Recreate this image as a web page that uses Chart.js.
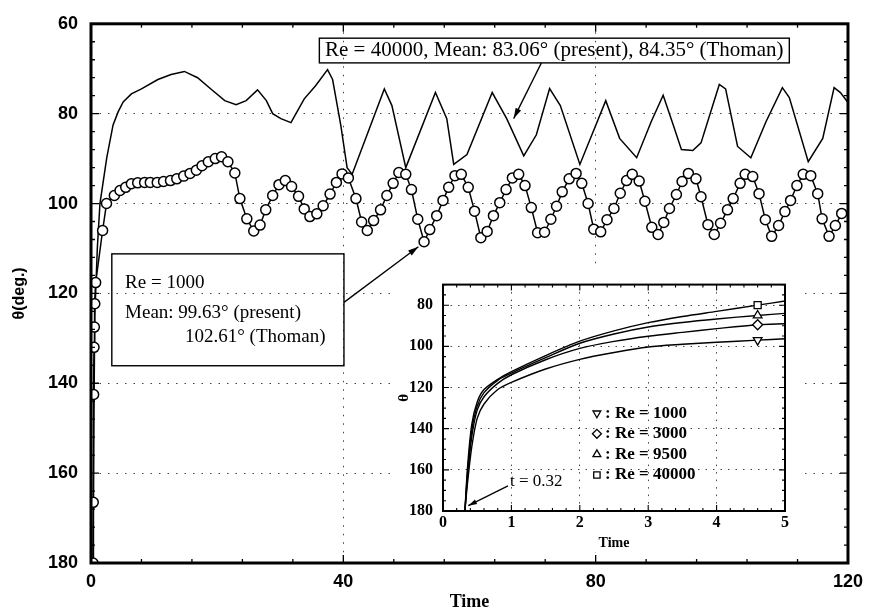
<!DOCTYPE html>
<html>
<head>
<meta charset="utf-8">
<script src="https://cdn.jsdelivr.net/npm/chart.js@4.4.0/dist/chart.umd.min.js"></script>
<style>
  html, body { margin: 0; padding: 0; background: #fff; }
  #wrap { position: relative; width: 871px; height: 613px; }
  #main { position: absolute; left: 0; top: 0; }
  #inset { position: absolute; left: 395px; top: 265px; background: #fff; }
</style>
</head>
<body>
<div id="wrap">
  <canvas id="main" width="871" height="613"></canvas>
  <canvas id="inset" width="405" height="287"></canvas>
</div>
<script>
// main plot: Re = 1000 (circles)
const re1000Time = [0.32, 0.36, 0.42, 0.48, 0.53, 0.6, 0.74, 1.84, 2.46, 3.7, 4.6, 5.5, 6.4, 7.4, 8.5, 9.4, 10.5, 11.5, 12.6, 13.6,
  14.7, 15.7, 16.7, 17.6, 18.6, 19.7, 20.7, 21.7, 22.8, 23.6, 24.7, 25.8, 26.8, 27.7, 28.8, 29.8, 30.8, 31.8, 32.9, 33.8,
  34.7, 35.8, 36.8, 37.9, 38.9, 39.8, 40.8, 42.0, 42.9, 43.8, 44.8, 45.9, 46.9, 47.9, 48.8, 49.9, 50.8, 51.8, 52.8, 53.7,
  54.8, 55.8, 56.7, 57.7, 58.7, 59.8, 60.8, 61.8, 62.8, 63.8, 64.8, 65.8, 66.8, 67.8, 68.8, 69.8, 70.8, 71.9, 72.9, 73.8,
  74.7, 75.8, 76.9, 77.8, 78.8, 79.7, 80.8, 81.8, 82.9, 83.9, 84.9, 85.8, 86.9, 87.8, 88.9, 89.9, 90.8, 91.7, 92.8, 93.7,
  94.7, 95.9, 96.7, 97.8, 98.8, 99.8, 100.9, 101.8, 102.9, 103.7, 104.9, 105.9, 106.9, 107.9, 109.0, 110.0, 110.9, 111.9,
  112.9, 114.1, 115.2, 115.9, 117.0, 118.0, 119.0];
const re1000Theta = [180, 166.5, 142.5, 132, 127.5, 122.3, 117.6, 106, 100, 98.2, 97.1, 96.4, 95.6, 95.4, 95.3, 95.3, 95.3, 95.1, 94.9, 94.5,
  93.9, 93.3, 92.6, 91.6, 90.7, 90.0, 89.6, 90.7, 93.2, 98.9, 103.4, 106.1, 104.8, 101.4, 98.2, 95.8, 94.9, 96.2, 98.4, 101.2,
  102.9, 102.3, 100.5, 97.9, 95.3, 93.4, 94.3, 98.9, 104.1, 106.0, 103.8, 101.4, 98.2, 95.5, 93.1, 93.5, 96.9, 103.5, 108.5, 105.8,
  102.7, 99.3, 96.4, 93.8, 93.5, 96.4, 101.7, 107.6, 106.2, 102.7, 99.8, 96.9, 94.3, 93.5, 96.0, 100.9, 106.5, 106.4, 103.5, 100.6,
  97.4, 94.5, 93.3, 95.5, 100.0, 105.7, 106.3, 103.6, 101.1, 97.7, 94.9, 93.5, 95.0, 99.5, 105.3, 106.9, 104.2, 101.1, 98.0, 95.1,
  93.3, 94.5, 98.5, 104.7, 106.9, 104.4, 101.4, 98.9, 95.5, 93.5, 94.0, 97.8, 103.6, 107.3, 104.9, 101.8, 99.3, 96.0,
  93.5, 93.8, 97.8, 103.4, 107.3, 104.9, 102.2];

// main plot: Re = 40000 (solid line)
const re40000Time = [0.3, 0.45, 0.6, 1.0, 1.42, 2.5, 3.5, 4.3, 5.1, 6.4, 8.0, 10.6, 12.7, 14.8, 16.9, 19.0, 21.2, 23.0, 24.6, 26.4,
  27.8, 28.8, 30.1, 31.7, 33.8, 35.6, 37.5, 38.3, 39.6, 40.6, 41.4, 46.5, 47.7, 49.9, 54.6, 56.4, 57.5, 59.6, 63.6, 65.9,
  68.6, 70.6, 72.7, 74.4, 77.5, 81.6, 83.8, 86.5, 88.8, 90.7, 92.3, 93.6, 95.4, 96.7, 99.6, 100.6, 102.5, 104.6, 107.0, 109.6,
  110.7, 113.7, 116.0, 117.8, 118.8, 120];
const re40000Theta = [180, 150, 125, 110, 100, 89.8, 82.5, 79.6, 77.4, 75.6, 74.5, 72.4, 71.3, 70.6, 72.0, 74.5, 77.1, 78.0, 77.1, 74.7,
  77.1, 80.0, 81.1, 82.0, 76.7, 73.8, 70.2, 72.4, 82.6, 92.0, 93.5, 74.5, 78.2, 92.0, 75.3, 81.1, 91.3, 89.1, 75.3, 81.1,
  89.4, 84.7, 74.4, 78.2, 91.3, 77.1, 85.5, 89.8, 81.8, 75.9, 82.5, 88.0, 88.2, 86.5, 73.5, 74.5, 87.3, 89.8, 81.8, 74.2,
  76.4, 90.7, 85.5, 74.2, 75.3, 77.5];

// inset: early transient for four Reynolds numbers
const insetTime = [0.32, 0.36, 0.42, 0.5, 0.6, 0.8, 1, 1.5, 2, 2.5, 3, 3.5, 4, 4.6, 5];
const inset1000 = [180, 166, 149, 135, 128, 121, 117.5, 111, 106.3, 103, 100.3, 99, 98, 97, 96.3];
const inset3000 = [180, 163, 144, 131, 124.5, 118, 113.8, 106.5, 101, 97.6, 95.1, 93.2, 91.4, 89.5, 89];
const inset9500 = [180, 161, 141, 129, 122.5, 116.5, 113, 105.5, 98.5, 94, 90.6, 88.4, 86.7, 85, 84];
const inset40000 = [180, 158, 138, 127, 121, 116, 112.3, 104.5, 97.5, 92.5, 88.5, 85.5, 83, 80, 78];
const insetMarkerTime = 4.6;

// tick labels
const mainXLabels = [0, 40, 80, 120];
const mainYLabels = [60, 80, 100, 120, 140, 160, 180];
const insetXLabels = [0, 1, 2, 3, 4, 5];
const insetYLabels = [80, 100, 120, 140, 160, 180];

const pairs = (xs, ys) => xs.map((x, i) => ({ x: x, y: ys[i] }));
const isIn = (v, list) => list.some(m => Math.abs(m - v) < 1e-6);

function drawArrow(ctx, x0, y0, x1, y1, size) {
  ctx.beginPath();
  ctx.moveTo(x0, y0);
  ctx.lineTo(x1, y1);
  ctx.stroke();
  const a = Math.atan2(y1 - y0, x1 - x0);
  ctx.beginPath();
  ctx.moveTo(x1, y1);
  ctx.lineTo(x1 - size * Math.cos(a - 0.28), y1 - size * Math.sin(a - 0.28));
  ctx.lineTo(x1 - size * Math.cos(a + 0.28), y1 - size * Math.sin(a + 0.28));
  ctx.closePath();
  ctx.fill();
}

// box frame with inward ticks on all four sides
const framePlugin = {
  id: 'frame',
  afterDraw(chart, args, o) {
    const { ctx, chartArea: a, scales: { x, y } } = chart;
    ctx.save();
    ctx.strokeStyle = '#000';
    ctx.lineWidth = o.tickWidth;
    ctx.beginPath();
    x.ticks.forEach(t => {
      const p = x.getPixelForValue(t.value);
      const len = isIn(t.value, o.xMajor) ? o.majorLen : o.minorLen;
      ctx.moveTo(p, a.bottom); ctx.lineTo(p, a.bottom - len);
      ctx.moveTo(p, a.top); ctx.lineTo(p, a.top + len);
    });
    y.ticks.forEach(t => {
      const p = y.getPixelForValue(t.value);
      const len = isIn(t.value, o.yMajor) ? o.majorLen : o.minorLen;
      ctx.moveTo(a.left, p); ctx.lineTo(a.left + len, p);
      ctx.moveTo(a.right, p); ctx.lineTo(a.right - len, p);
    });
    ctx.stroke();
    ctx.lineWidth = o.width;
    ctx.strokeRect(a.left, a.top, a.right - a.left, a.bottom - a.top);
    ctx.restore();
  }
};

// text boxes, arrows and the inset legend
const notesPlugin = {
  id: 'notes',
  afterDatasetsDraw(chart, args, o) {
    const { ctx, scales: { x, y } } = chart;
    const X = v => x.getPixelForValue(v), Y = v => y.getPixelForValue(v);
    ctx.save();
    ctx.strokeStyle = '#000';
    ctx.fillStyle = '#000';
    ctx.textBaseline = 'middle';
    (o.boxes || []).forEach(b => {
      ctx.lineWidth = 1.4;
      ctx.strokeRect(X(b.x0), Y(b.y0), X(b.x1) - X(b.x0), Y(b.y1) - Y(b.y0));
    });
    (o.texts || []).forEach(t => {
      ctx.font = t.font;
      ctx.fillText(t.text, X(t.x), Y(t.y));
    });
    (o.arrows || []).forEach(r => {
      ctx.lineWidth = 1.3;
      drawArrow(ctx, X(r.from[0]), Y(r.from[1]), X(r.to[0]), Y(r.to[1]), r.head);
    });
    if (o.legend) {
      const L = o.legend;
      chart.data.datasets.forEach((ds, i) => {
        const py = Y(L.y + i * L.step);
        ctx.fillStyle = '#fff';
        ctx.lineWidth = 1.3;
        Chart.helpers.drawPoint(ctx, { pointStyle: ds.pointStyle, rotation: ds.pointRotation || 0, radius: 4.5, borderWidth: 1.3 }, X(L.x), py);
        ctx.fillStyle = '#000';
        ctx.font = L.font;
        ctx.fillText(': ' + ds.label, X(L.x + L.dx), py);
      });
    }
    ctx.restore();
  }
};

const gridDots = (major, edges) => c => (c.tick && isIn(c.tick.value, major) && !isIn(c.tick.value, edges)) ? '#444' : 'rgba(0,0,0,0)';

new Chart(document.getElementById('main'), {
  type: 'line',
  data: {
    datasets: [{
      label: 'Re = 1000',
      data: pairs(re1000Time, re1000Theta),
      borderColor: '#000',
      borderWidth: 1.5,
      pointRadius: 5,
      pointBorderWidth: 1.5,
      pointBackgroundColor: '#fff',
      pointBorderColor: '#000',
      tension: 0
    }, {
      label: 'Re = 40000',
      data: pairs(re40000Time, re40000Theta),
      borderColor: '#000',
      borderWidth: 1.5,
      pointRadius: 0,
      tension: 0
    }]
  },
  options: {
    responsive: false,
    animation: false,
    layout: { padding: { top: 13, right: 20, left: 0, bottom: 0 } },
    plugins: {
      legend: { display: false },
      tooltip: { enabled: false },
      frame: { width: 3, tickWidth: 1.3, majorLen: 8, minorLen: 4, xMajor: mainXLabels, yMajor: mainYLabels },
      notes: {
        boxes: [
          { x0: 36.2, y0: 63.2, x1: 110.7, y1: 68.7 },
          { x0: 3.3, y0: 111.2, x1: 40.1, y1: 136.1 }
        ],
        texts: [
          { text: 'Re = 40000, Mean: 83.06° (present), 84.35° (Thoman)', x: 37.1, y: 66.0, font: '21px "Liberation Serif"' },
          { text: 'Re = 1000', x: 5.4, y: 117.6, font: '19px "Liberation Serif"' },
          { text: 'Mean: 99.63° (present)', x: 5.4, y: 124.3, font: '19px "Liberation Serif"' },
          { text: '102.61° (Thoman)', x: 14.9, y: 129.6, font: '19px "Liberation Serif"' }
        ],
        arrows: [
          { from: [71.4, 68.7], to: [67.0, 81.1], head: 11 },
          { from: [40.1, 122.0], to: [51.9, 109.6], head: 11 }
        ]
      }
    },
    scales: {
      x: {
        type: 'linear', min: 0, max: 120,
        afterFit: s => { s.height = 50; },
        ticks: { stepSize: 8, autoSkip: false, maxRotation: 0, padding: 8, color: '#000',
          font: { family: 'Liberation Sans', size: 18, weight: 'bold' },
          callback: v => isIn(v, mainXLabels) ? v : '' },
        grid: { drawTicks: false, color: gridDots(mainXLabels, [0, 120]), lineWidth: 1 },
        border: { display: false, dash: [1.5, 7] },
        title: { display: true, text: 'Time', color: '#000', padding: { top: 0, bottom: 0 },
          font: { family: 'Liberation Serif', size: 18, weight: 'bold' } }
      },
      y: {
        type: 'linear', reverse: true, min: 60, max: 180,
        afterFit: s => { s.width = 91; },
        ticks: { stepSize: 4, autoSkip: false, padding: 13, color: '#000',
          font: { family: 'Liberation Sans', size: 18, weight: 'bold' },
          callback: v => isIn(v, mainYLabels) ? v : '' },
        grid: { drawTicks: false, color: gridDots(mainYLabels, [60, 180]), lineWidth: 1 },
        border: { display: false, dash: [1.5, 7] },
        title: { display: true, text: 'θ(deg.)', color: '#000', padding: { top: 10, bottom: 0 },
          font: { family: 'Liberation Sans', size: 16, weight: 'bold' } }
      }
    }
  },
  plugins: [framePlugin, notesPlugin]
});

const insetSeries = [
  { label: 'Re = 1000', theta: inset1000, style: 'triangle', rot: 180 },
  { label: 'Re = 3000', theta: inset3000, style: 'rectRot', rot: 0 },
  { label: 'Re = 9500', theta: inset9500, style: 'triangle', rot: 0 },
  { label: 'Re = 40000', theta: inset40000, style: 'rect', rot: 0 }
];

new Chart(document.getElementById('inset'), {
  type: 'line',
  data: {
    datasets: insetSeries.map(s => ({
      label: s.label,
      data: pairs(insetTime, s.theta),
      borderColor: '#000',
      borderWidth: 1.4,
      pointStyle: s.style,
      pointRotation: s.rot,
      pointRadius: c => (c.raw && c.raw.x === insetMarkerTime) ? 5 : 0,
      pointBorderWidth: 1.3,
      pointBackgroundColor: '#fff',
      pointBorderColor: '#000',
      tension: 0.3
    }))
  },
  options: {
    responsive: false,
    animation: false,
    layout: { padding: { top: 2, right: 15, left: 0, bottom: 0 } },
    plugins: {
      legend: { display: false },
      tooltip: { enabled: false },
      frame: { width: 2, tickWidth: 1.1, majorLen: 6, minorLen: 3, xMajor: insetXLabels, yMajor: insetYLabels },
      notes: {
        texts: [
          { text: 't = 0.32', x: 0.98, y: 165.6, font: '17px "Liberation Serif"' }
        ],
        arrows: [
          { from: [0.95, 167.8], to: [0.37, 177.4], head: 9 }
        ],
        legend: { x: 2.25, y: 132.5, step: 10, dx: 0.12, font: 'bold 17px "Liberation Serif"' }
      }
    },
    scales: {
      x: {
        type: 'linear', min: 0, max: 5,
        afterFit: s => { s.height = 41; },
        ticks: { stepSize: 0.2, autoSkip: false, maxRotation: 0, padding: 2, color: '#000',
          font: { family: 'Liberation Serif', size: 16, weight: 'bold' },
          callback: v => isIn(v, insetXLabels) ? Math.round(v) : '' },
        grid: { drawTicks: false, color: gridDots(insetXLabels, [0, 5]), lineWidth: 1 },
        border: { display: false, dash: [1.5, 6] },
        title: { display: true, text: 'Time', color: '#000', padding: { top: 5, bottom: 0 },
          font: { family: 'Liberation Serif', size: 14, weight: 'bold' } }
      },
      y: {
        type: 'linear', reverse: true, min: 70, max: 180,
        afterFit: s => { s.width = 48; },
        ticks: { stepSize: 5, autoSkip: false, padding: 10, color: '#000',
          font: { family: 'Liberation Serif', size: 16, weight: 'bold' },
          callback: v => isIn(v, insetYLabels) ? v : '' },
        grid: { drawTicks: false, color: gridDots(insetYLabels, [70, 180]), lineWidth: 1 },
        border: { display: false, dash: [1.5, 6] },
        title: { display: true, text: 'θ', color: '#000', padding: { top: 0, bottom: 0 },
          font: { family: 'Liberation Serif', size: 15, weight: 'bold' } }
      }
    }
  },
  plugins: [framePlugin, notesPlugin]
});
</script>
</body>
</html>
